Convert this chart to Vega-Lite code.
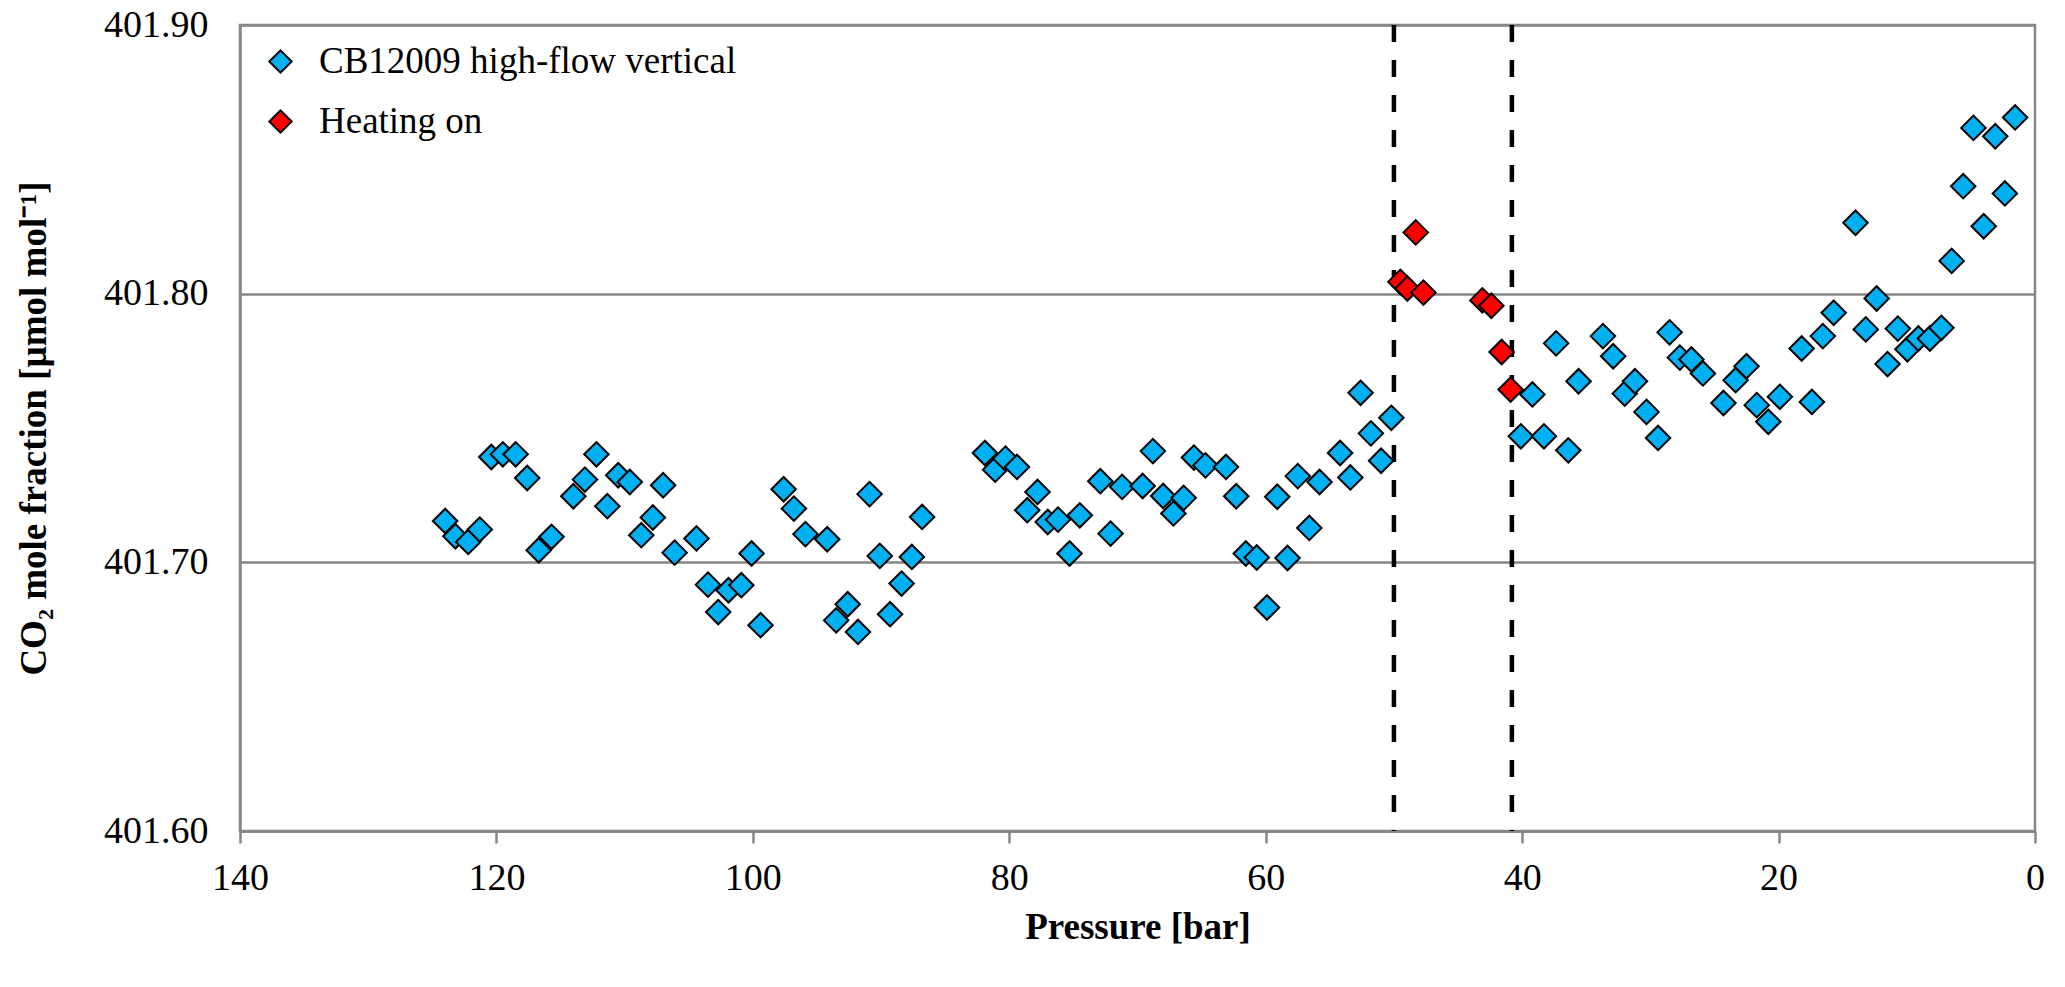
{
  "$schema": "https://vega.github.io/schema/vega-lite/v6.json",
  "width": 1795,
  "height": 806,
  "autosize": {"type": "none"},
  "padding": {"left": 240, "top": 25, "right": 30, "bottom": 156},
  "background": "white",
  "config": {
    "view": {"stroke": "#868686", "strokeWidth": 2.5},
    "font": "Liberation Serif",
    "axis": {"labelFont": "Liberation Serif", "titleFont": "Liberation Serif"},
    "legend": {"labelFont": "Liberation Serif"}
  },
  "layer": [
    {
      "data": {"values": [{"pressure": 50}, {"pressure": 40.8}]},
      "mark": {"type": "rule", "color": "black", "strokeWidth": 4.5, "strokeDash": [17, 18]},
      "encoding": {
        "x": {"field": "pressure", "type": "quantitative"}
      }
    },
    {
      "data": {
        "values": [
          {"pressure": 124.0, "co2": 401.7154, "series": "CB12009 high-flow vertical"},
          {"pressure": 123.2, "co2": 401.7097, "series": "CB12009 high-flow vertical"},
          {"pressure": 122.2, "co2": 401.7076, "series": "CB12009 high-flow vertical"},
          {"pressure": 121.3, "co2": 401.7122, "series": "CB12009 high-flow vertical"},
          {"pressure": 120.4, "co2": 401.7392, "series": "CB12009 high-flow vertical"},
          {"pressure": 119.5, "co2": 401.7402, "series": "CB12009 high-flow vertical"},
          {"pressure": 118.5, "co2": 401.7402, "series": "CB12009 high-flow vertical"},
          {"pressure": 117.6, "co2": 401.7314, "series": "CB12009 high-flow vertical"},
          {"pressure": 116.7, "co2": 401.7045, "series": "CB12009 high-flow vertical"},
          {"pressure": 115.7, "co2": 401.7095, "series": "CB12009 high-flow vertical"},
          {"pressure": 114.0, "co2": 401.7246, "series": "CB12009 high-flow vertical"},
          {"pressure": 113.1, "co2": 401.7308, "series": "CB12009 high-flow vertical"},
          {"pressure": 112.2, "co2": 401.7402, "series": "CB12009 high-flow vertical"},
          {"pressure": 111.35, "co2": 401.7209, "series": "CB12009 high-flow vertical"},
          {"pressure": 110.5, "co2": 401.7324, "series": "CB12009 high-flow vertical"},
          {"pressure": 109.6, "co2": 401.7299, "series": "CB12009 high-flow vertical"},
          {"pressure": 108.7, "co2": 401.7101, "series": "CB12009 high-flow vertical"},
          {"pressure": 107.8, "co2": 401.7167, "series": "CB12009 high-flow vertical"},
          {"pressure": 107.0, "co2": 401.7287, "series": "CB12009 high-flow vertical"},
          {"pressure": 106.1, "co2": 401.7036, "series": "CB12009 high-flow vertical"},
          {"pressure": 104.4, "co2": 401.7089, "series": "CB12009 high-flow vertical"},
          {"pressure": 103.5, "co2": 401.6917, "series": "CB12009 high-flow vertical"},
          {"pressure": 102.7, "co2": 401.6815, "series": "CB12009 high-flow vertical"},
          {"pressure": 101.9, "co2": 401.6896, "series": "CB12009 high-flow vertical"},
          {"pressure": 100.9, "co2": 401.6915, "series": "CB12009 high-flow vertical"},
          {"pressure": 100.1, "co2": 401.7033, "series": "CB12009 high-flow vertical"},
          {"pressure": 99.4, "co2": 401.6766, "series": "CB12009 high-flow vertical"},
          {"pressure": 97.6, "co2": 401.7272, "series": "CB12009 high-flow vertical"},
          {"pressure": 96.8, "co2": 401.7200, "series": "CB12009 high-flow vertical"},
          {"pressure": 95.9, "co2": 401.7105, "series": "CB12009 high-flow vertical"},
          {"pressure": 94.2, "co2": 401.7086, "series": "CB12009 high-flow vertical"},
          {"pressure": 93.5, "co2": 401.6784, "series": "CB12009 high-flow vertical"},
          {"pressure": 92.6, "co2": 401.6844, "series": "CB12009 high-flow vertical"},
          {"pressure": 91.8, "co2": 401.6741, "series": "CB12009 high-flow vertical"},
          {"pressure": 90.9, "co2": 401.7254, "series": "CB12009 high-flow vertical"},
          {"pressure": 90.1, "co2": 401.7024, "series": "CB12009 high-flow vertical"},
          {"pressure": 89.3, "co2": 401.6807, "series": "CB12009 high-flow vertical"},
          {"pressure": 88.4, "co2": 401.6921, "series": "CB12009 high-flow vertical"},
          {"pressure": 87.6, "co2": 401.7020, "series": "CB12009 high-flow vertical"},
          {"pressure": 86.8, "co2": 401.7169, "series": "CB12009 high-flow vertical"},
          {"pressure": 81.9, "co2": 401.7407, "series": "CB12009 high-flow vertical"},
          {"pressure": 81.1, "co2": 401.7345, "series": "CB12009 high-flow vertical"},
          {"pressure": 80.3, "co2": 401.7386, "series": "CB12009 high-flow vertical"},
          {"pressure": 79.4, "co2": 401.7355, "series": "CB12009 high-flow vertical"},
          {"pressure": 78.6, "co2": 401.7194, "series": "CB12009 high-flow vertical"},
          {"pressure": 77.8, "co2": 401.7262, "series": "CB12009 high-flow vertical"},
          {"pressure": 77.0, "co2": 401.7150, "series": "CB12009 high-flow vertical"},
          {"pressure": 76.2, "co2": 401.7159, "series": "CB12009 high-flow vertical"},
          {"pressure": 75.3, "co2": 401.7033, "series": "CB12009 high-flow vertical"},
          {"pressure": 74.5, "co2": 401.7175, "series": "CB12009 high-flow vertical"},
          {"pressure": 72.9, "co2": 401.7302, "series": "CB12009 high-flow vertical"},
          {"pressure": 72.1, "co2": 401.7107, "series": "CB12009 high-flow vertical"},
          {"pressure": 71.2, "co2": 401.7281, "series": "CB12009 high-flow vertical"},
          {"pressure": 69.6, "co2": 401.7284, "series": "CB12009 high-flow vertical"},
          {"pressure": 68.8, "co2": 401.7414, "series": "CB12009 high-flow vertical"},
          {"pressure": 68.0, "co2": 401.7247, "series": "CB12009 high-flow vertical"},
          {"pressure": 67.2, "co2": 401.7182, "series": "CB12009 high-flow vertical"},
          {"pressure": 66.4, "co2": 401.7240, "series": "CB12009 high-flow vertical"},
          {"pressure": 65.6, "co2": 401.7390, "series": "CB12009 high-flow vertical"},
          {"pressure": 64.7, "co2": 401.7361, "series": "CB12009 high-flow vertical"},
          {"pressure": 63.1, "co2": 401.7355, "series": "CB12009 high-flow vertical"},
          {"pressure": 62.3, "co2": 401.7246, "series": "CB12009 high-flow vertical"},
          {"pressure": 61.55, "co2": 401.7033, "series": "CB12009 high-flow vertical"},
          {"pressure": 60.7, "co2": 401.7018, "series": "CB12009 high-flow vertical"},
          {"pressure": 59.9, "co2": 401.6832, "series": "CB12009 high-flow vertical"},
          {"pressure": 59.1, "co2": 401.7244, "series": "CB12009 high-flow vertical"},
          {"pressure": 58.3, "co2": 401.7016, "series": "CB12009 high-flow vertical"},
          {"pressure": 57.5, "co2": 401.7321, "series": "CB12009 high-flow vertical"},
          {"pressure": 56.6, "co2": 401.7128, "series": "CB12009 high-flow vertical"},
          {"pressure": 55.8, "co2": 401.7299, "series": "CB12009 high-flow vertical"},
          {"pressure": 54.2, "co2": 401.7407, "series": "CB12009 high-flow vertical"},
          {"pressure": 53.4, "co2": 401.7316, "series": "CB12009 high-flow vertical"},
          {"pressure": 52.6, "co2": 401.7631, "series": "CB12009 high-flow vertical"},
          {"pressure": 51.8, "co2": 401.7480, "series": "CB12009 high-flow vertical"},
          {"pressure": 51.0, "co2": 401.7378, "series": "CB12009 high-flow vertical"},
          {"pressure": 50.2, "co2": 401.7538, "series": "CB12009 high-flow vertical"},
          {"pressure": 40.1, "co2": 401.7469, "series": "CB12009 high-flow vertical"},
          {"pressure": 39.2, "co2": 401.7625, "series": "CB12009 high-flow vertical"},
          {"pressure": 38.3, "co2": 401.7469, "series": "CB12009 high-flow vertical"},
          {"pressure": 37.35, "co2": 401.7815, "series": "CB12009 high-flow vertical"},
          {"pressure": 36.4, "co2": 401.7417, "series": "CB12009 high-flow vertical"},
          {"pressure": 35.6, "co2": 401.7674, "series": "CB12009 high-flow vertical"},
          {"pressure": 33.7, "co2": 401.7842, "series": "CB12009 high-flow vertical"},
          {"pressure": 32.9, "co2": 401.7767, "series": "CB12009 high-flow vertical"},
          {"pressure": 32.0, "co2": 401.7628, "series": "CB12009 high-flow vertical"},
          {"pressure": 31.2, "co2": 401.7674, "series": "CB12009 high-flow vertical"},
          {"pressure": 30.3, "co2": 401.7560, "series": "CB12009 high-flow vertical"},
          {"pressure": 29.4, "co2": 401.7463, "series": "CB12009 high-flow vertical"},
          {"pressure": 28.5, "co2": 401.7856, "series": "CB12009 high-flow vertical"},
          {"pressure": 27.7, "co2": 401.7762, "series": "CB12009 high-flow vertical"},
          {"pressure": 26.8, "co2": 401.7755, "series": "CB12009 high-flow vertical"},
          {"pressure": 25.9, "co2": 401.7703, "series": "CB12009 high-flow vertical"},
          {"pressure": 24.3, "co2": 401.7593, "series": "CB12009 high-flow vertical"},
          {"pressure": 23.35, "co2": 401.7678, "series": "CB12009 high-flow vertical"},
          {"pressure": 22.5, "co2": 401.7730, "series": "CB12009 high-flow vertical"},
          {"pressure": 21.7, "co2": 401.7585, "series": "CB12009 high-flow vertical"},
          {"pressure": 20.8, "co2": 401.7523, "series": "CB12009 high-flow vertical"},
          {"pressure": 19.9, "co2": 401.7616, "series": "CB12009 high-flow vertical"},
          {"pressure": 18.2, "co2": 401.7796, "series": "CB12009 high-flow vertical"},
          {"pressure": 17.4, "co2": 401.7597, "series": "CB12009 high-flow vertical"},
          {"pressure": 16.55, "co2": 401.7842, "series": "CB12009 high-flow vertical"},
          {"pressure": 15.7, "co2": 401.7929, "series": "CB12009 high-flow vertical"},
          {"pressure": 14.0, "co2": 401.8264, "series": "CB12009 high-flow vertical"},
          {"pressure": 13.2, "co2": 401.7867, "series": "CB12009 high-flow vertical"},
          {"pressure": 12.35, "co2": 401.7982, "series": "CB12009 high-flow vertical"},
          {"pressure": 11.5, "co2": 401.7738, "series": "CB12009 high-flow vertical"},
          {"pressure": 10.7, "co2": 401.7870, "series": "CB12009 high-flow vertical"},
          {"pressure": 9.95, "co2": 401.7793, "series": "CB12009 high-flow vertical"},
          {"pressure": 9.1, "co2": 401.7833, "series": "CB12009 high-flow vertical"},
          {"pressure": 8.2, "co2": 401.7833, "series": "CB12009 high-flow vertical"},
          {"pressure": 7.3, "co2": 401.7873, "series": "CB12009 high-flow vertical"},
          {"pressure": 6.5, "co2": 401.8122, "series": "CB12009 high-flow vertical"},
          {"pressure": 5.6, "co2": 401.8400, "series": "CB12009 high-flow vertical"},
          {"pressure": 4.8, "co2": 401.8617, "series": "CB12009 high-flow vertical"},
          {"pressure": 4.0, "co2": 401.8251, "series": "CB12009 high-flow vertical"},
          {"pressure": 3.1, "co2": 401.8586, "series": "CB12009 high-flow vertical"},
          {"pressure": 2.35, "co2": 401.8373, "series": "CB12009 high-flow vertical"},
          {"pressure": 1.55, "co2": 401.8656, "series": "CB12009 high-flow vertical"},
          {"pressure": 49.5, "co2": 401.8044, "series": "Heating on"},
          {"pressure": 48.95, "co2": 401.8019, "series": "Heating on"},
          {"pressure": 48.3, "co2": 401.8228, "series": "Heating on"},
          {"pressure": 47.7, "co2": 401.8004, "series": "Heating on"},
          {"pressure": 43.1, "co2": 401.7975, "series": "Heating on"},
          {"pressure": 42.4, "co2": 401.7955, "series": "Heating on"},
          {"pressure": 41.6, "co2": 401.7783, "series": "Heating on"},
          {"pressure": 40.9, "co2": 401.7643, "series": "Heating on"}
        ]
      },
      "mark": {"type": "point", "shape": "diamond", "filled": true, "opacity": 1, "stroke": "black", "strokeWidth": 2, "size": 600},
      "encoding": {
        "x": {
          "field": "pressure",
          "type": "quantitative",
          "scale": {"domain": [0, 140], "reverse": true, "nice": false},
          "axis": {
            "title": "Pressure [bar]",
            "values": [0, 20, 40, 60, 80, 100, 120, 140],
            "format": "d",
            "grid": false,
            "labelFont": "Liberation Serif",
            "labelFontSize": 38,
            "labelColor": "black",
            "labelPadding": 16,
            "labelFlush": false,
            "tickColor": "#868686",
            "tickWidth": 2.5,
            "tickSize": 12,
            "domainColor": "#868686",
            "domainWidth": 2.5,
            "titleFont": "Liberation Serif",
            "titleFontSize": 37,
            "titleFontWeight": "bold",
            "titleColor": "black",
            "titlePadding": 12
          }
        },
        "y": {
          "field": "co2",
          "type": "quantitative",
          "scale": {"domain": [401.6, 401.9], "nice": false, "zero": false},
          "axis": {
            "title": "CO₂ mole fraction [µmol mol⁻¹]",
            "values": [401.6, 401.7, 401.8, 401.9],
            "format": ".2f",
            "grid": true,
            "gridColor": "#868686",
            "gridWidth": 2.5,
            "ticks": false,
            "labelFont": "Liberation Serif",
            "labelFontSize": 38,
            "labelColor": "black",
            "labelPadding": 32,
            "labelFlush": false,
            "domainColor": "#868686",
            "domainWidth": 2.5,
            "titleFont": "Liberation Serif",
            "titleFontSize": 37,
            "titleFontWeight": "bold",
            "titleColor": "black",
            "titlePadding": 50
          }
        },
        "color": {
          "field": "series",
          "type": "nominal",
          "scale": {"domain": ["CB12009 high-flow vertical", "Heating on"], "range": ["#00B0F0", "#FF0000"]},
          "legend": {
            "title": null,
            "orient": "none",
            "legendX": 22,
            "legendY": 18,
            "padding": 0,
            "labelFont": "Liberation Serif",
            "labelFontSize": 37,
            "labelColor": "black",
            "labelLimit": 0,
            "labelOffset": 20,
            "rowPadding": 22,
            "symbolType": "diamond",
            "symbolSize": 500,
            "symbolStrokeColor": "black",
            "symbolStrokeWidth": 2,
            "symbolOpacity": 1
          }
        }
      }
    }
  ]
}
